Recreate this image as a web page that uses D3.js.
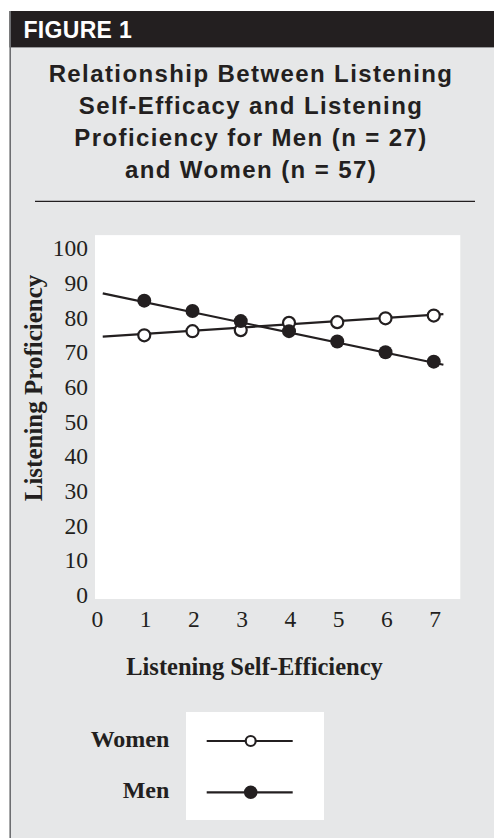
<!DOCTYPE html>
<html>
<head>
<meta charset="utf-8">
<script src="https://cdn.jsdelivr.net/npm/d3@7"></script>
<style>
    body { margin: 0; background: #fff; }
    .serif { font-family: "Liberation Serif", "Times New Roman", serif; fill: #231f20; }
    .sans { font-family: "Liberation Sans", Arial, sans-serif; font-weight: bold; fill: #231f20; }
</style>
</head>
<body>
<script>
//wrap everything in an anonymous function so nothing is global
(function () {

    //chart data
    var xValues = [1, 2, 3, 4, 5, 6, 7];
    var womenValues = [74.9, 76.1, 76.4, 78.5, 78.7, 79.8, 80.6];
    var menValues = [84.9, 81.9, 79.0, 76.1, 73.1, 70.0, 67.3];

    //fitted lines (start and end points)
    var womenLine = [[0.14, 74.5], [7.2, 81.0]];
    var menLine = [[0.14, 87.0], [7.2, 66.4]];

    //tick labels
    var xTicks = [0, 1, 2, 3, 4, 5, 6, 7];
    var yTicks = [0, 10, 20, 30, 40, 50, 60, 70, 80, 90, 100];

    var titleLines = [
        "Relationship Between Listening",
        "Self-Efficacy and Listening",
        "Proficiency for Men (n = 27)",
        "and Women (n = 57)"
    ];
    var legendItems = [
        { name: "Women", filled: false },
        { name: "Men", filled: true }
    ];

    var width = 494,
        height = 838,
        ink = "#231f20";

    var svg = d3.select("body")
        .append("svg")
        .attr("width", width)
        .attr("height", height);

    //panel background and frame
    svg.append("rect")
        .attr("x", 10).attr("y", 47)
        .attr("width", width - 10).attr("height", height - 47)
        .style("fill", "#e6e7e8");

    svg.append("rect")
        .attr("x", 9.5).attr("y", 11)
        .attr("width", width - 9.5).attr("height", 36)
        .style("fill", ink);

    svg.append("line")
        .attr("x1", 9.5).attr("x2", width)
        .attr("y1", 47.5).attr("y2", 47.5)
        .style("stroke", "#9a9a9c").style("stroke-width", 1);

    svg.append("line")
        .attr("x1", 10.2).attr("x2", 10.2)
        .attr("y1", 11).attr("y2", height)
        .style("stroke", "#6d6e71").style("stroke-width", 1.6);

    //header label
    svg.append("text")
        .attr("class", "sans")
        .attr("x", 23.5).attr("y", 38.3)
        .style("font-size", "23px")
        .style("letter-spacing", "0.3px")
        .style("fill", "#fff")
        .text("FIGURE 1");

    //title
    svg.selectAll(".titleLine")
        .data(titleLines)
        .enter()
        .append("text")
        .attr("class", "sans titleLine")
        .attr("x", 251)
        .attr("y", function (d, i) { return 82.3 + i * 32; })
        .attr("text-anchor", "middle")
        .style("font-size", "24px")
        .style("letter-spacing", "1.4px")
        .text(function (d) { return d; });

    svg.append("line")
        .attr("x1", 35).attr("x2", 475)
        .attr("y1", 201.3).attr("y2", 201.3)
        .style("stroke", ink).style("stroke-width", 1.3);

    //scales
    var xScale = d3.scaleLinear()
        .domain([0, 7])
        .range([96, 96 + 7 * 48.25]);

    var yScale = d3.scaleLinear()
        .domain([0, 100])
        .range([595, 248.3]);

    //white plotting background
    svg.append("rect")
        .attr("x", xScale(0) - 1)
        .attr("y", yScale(103.8))
        .attr("width", xScale(7.55) - xScale(0) + 1)
        .attr("height", yScale(0) + 4 - yScale(103.8))
        .style("fill", "#fff");

    //y tick labels
    var yAxis = svg.append("g").attr("class", "yLabels");
    yAxis.selectAll("text")
        .data(yTicks)
        .enter()
        .append("text")
        .attr("class", "serif")
        .attr("x", 88)
        .attr("y", function (d) { return yScale(d); })
        .attr("dy", "0.34em")
        .attr("text-anchor", "end")
        .style("font-size", "23.5px")
        .text(function (d) { return d; });

    //x tick labels
    var xAxis = svg.append("g").attr("class", "xLabels");
    xAxis.selectAll("text")
        .data(xTicks)
        .enter()
        .append("text")
        .attr("class", "serif")
        .attr("x", function (d) { return xScale(d) + 1.3; })
        .attr("y", 626.5)
        .attr("text-anchor", "middle")
        .style("font-size", "23.5px")
        .text(function (d) { return d; });

    //axis titles
    svg.append("text")
        .attr("class", "serif")
        .attr("x", 254.5).attr("y", 675)
        .attr("text-anchor", "middle")
        .style("font-size", "24.5px")
        .style("font-weight", "bold")
        .text("Listening Self-Efficiency");

    svg.append("text")
        .attr("class", "serif")
        .attr("transform", "translate(41.7,388) rotate(-90)")
        .attr("text-anchor", "middle")
        .style("font-size", "25px")
        .style("font-weight", "bold")
        .text("Listening Proficiency");

    //fitted lines
    var line = d3.line()
        .x(function (d) { return xScale(d[0]); })
        .y(function (d) { return yScale(d[1]); });

    [womenLine, menLine].forEach(function (pts) {
        svg.append("path")
            .datum(pts)
            .attr("d", line)
            .style("fill", "none")
            .style("stroke", ink)
            .style("stroke-width", 2.2);
    });

    //women points (open)
    svg.selectAll(".women")
        .data(womenValues)
        .enter()
        .append("circle")
        .attr("class", "women")
        .attr("cx", function (d, i) { return xScale(xValues[i]); })
        .attr("cy", function (d) { return yScale(d); })
        .attr("r", 6)
        .style("fill", "#fff")
        .style("stroke", ink)
        .style("stroke-width", 2.2);

    //men points (filled)
    svg.selectAll(".men")
        .data(menValues)
        .enter()
        .append("circle")
        .attr("class", "men")
        .attr("cx", function (d, i) { return xScale(xValues[i]); })
        .attr("cy", function (d) { return yScale(d); })
        .attr("r", 7)
        .style("fill", ink);

    //legend
    svg.append("rect")
        .attr("x", 186).attr("y", 712)
        .attr("width", 138).attr("height", 108)
        .style("fill", "#fff");

    var legend = svg.selectAll(".legendItem")
        .data(legendItems)
        .enter()
        .append("g")
        .attr("class", "legendItem")
        .attr("transform", function (d, i) { return "translate(0," + (741 + i * 51.3) + ")"; });

    legend.append("text")
        .attr("class", "serif")
        .attr("x", 169.3)
        .attr("y", 5.5)
        .attr("text-anchor", "end")
        .style("font-size", "24px")
        .style("font-weight", "bold")
        .text(function (d) { return d.name; });

    legend.append("line")
        .attr("x1", 206.7).attr("x2", 292.7)
        .style("stroke", ink)
        .style("stroke-width", 2.2);

    legend.append("circle")
        .attr("cx", 250.7)
        .attr("r", function (d) { return d.filled ? 6.8 : 5; })
        .style("fill", function (d) { return d.filled ? ink : "#fff"; })
        .style("stroke", ink)
        .style("stroke-width", function (d) { return d.filled ? 0 : 2.2; });

})();
</script>
</body>
</html>
